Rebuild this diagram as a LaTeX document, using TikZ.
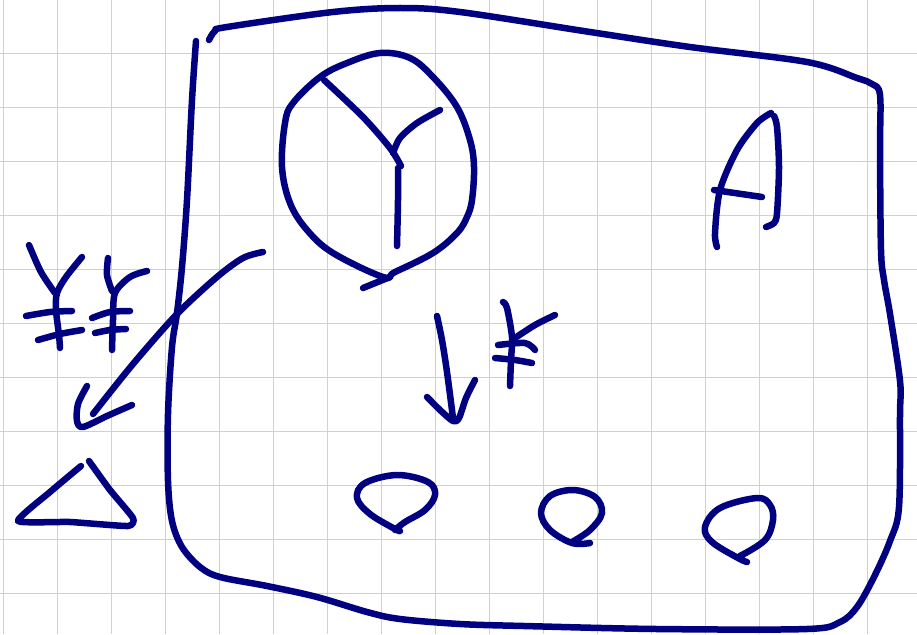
\documentclass[tikz,border=0pt]{standalone}
\begin{document}
\begin{tikzpicture}[x=1pt,y=-1pt,
  ink/.style={draw={rgb,255:red,0;green,0;blue,128},line width=6.5pt,line cap=round,line join=round},
  gridline/.style={draw={rgb,255:red,206;green,206;blue,220},line width=1.4pt}]
\useasboundingbox (0,0) rectangle (917,634);
\fill[white] (0,0) rectangle (917,634);
% grid
\foreach \k in {0,...,16} {\draw[gridline] (3.3+54*\k,0) -- (3.3+54*\k,634);}
\foreach \k in {1,...,11} {\draw[gridline] (0,-0.7+54*\k) -- (917,-0.7+54*\k);}
% outline box
\draw[ink] plot[smooth,tension=0.55] coordinates {
 (196,41) (192,100) (187,200) (182,267) (177,313) (172,347) (168,414) (168,481) (172,521)
 (182,547) (200,567) (220,577) (267,586) (317,597) (367,612) (400,619) (460,624)
 (524,626) (657,629) (807,629) (840,622) (857,607) (874,577) (890,541) (899,507)
 (900,414) (900,381) (890,314) (884,280) (881,250) (880,150) (880,95) (872,84)
 (857,78) (807,62) (690,47) (590,32) (460,12) (400,8) (333,12) (227,27) (215,31) (209,40)};
% big circle
\draw[ink] plot[smooth cycle,tension=0.6] coordinates {
 (383,277) (333,253) (307,230) (290,203) (282,167) (285,123) (293,103) (320,77)
 (347,63) (380,53) (410,58) (433,77) (457,107) (470,140) (474,167) (472,200)
 (467,217) (457,233) (433,253) (395,272)};
\draw[ink] (363,288) -- (390,277);
% Y inside circle
\draw[ink] plot[smooth,tension=0.5] coordinates {(324,80) (363,117) (390,148) (401,166)};
\draw[ink] plot[smooth,tension=0.5] coordinates {(393,153) (400,138) (417,123) (440,110)};
\draw[ink] plot[smooth,tension=0.5] coordinates {(398,168) (398,200) (397,246)};
% A
\draw[ink] plot[smooth,tension=0.5] coordinates {(717,247) (715,233) (720,190) (737,150) (757,123) (771,113)};
\draw[ink] plot[smooth,tension=0.5] coordinates {(774,116) (777,127) (779,167) (777,213) (774,223) (766,227)};
\draw[ink] (714,190) -- (762,197);
% left yen signs
\draw[ink] plot[smooth,tension=0.5] coordinates {(29,245) (41,272) (55,293)};
\draw[ink] plot[smooth,tension=0.5] coordinates {(82,257) (66,277) (57,293) (56,310) (59,335) (60,348)};
\draw[ink] plot[smooth,tension=0.5] coordinates {(26,316) (50,312) (72,311)};
\draw[ink] plot[smooth,tension=0.5] coordinates {(38,340) (60,334) (82,330)};
\draw[ink] plot[smooth,tension=0.5] coordinates {(108,258) (107,275) (112,291)};
\draw[ink] plot[smooth,tension=0.5] coordinates {(147,271) (130,277) (115,293) (113,320) (112,350)};
\draw[ink] plot[smooth,tension=0.5] coordinates {(92,318) (110,312) (130,311)};
\draw[ink] plot[smooth,tension=0.5] coordinates {(95,333) (110,330) (126,329)};
% curved arrow to triangle
\draw[ink] plot[smooth,tension=0.5] coordinates {(263,252) (243,258) (217,277) (177,314) (133,364) (93,414)};
\draw[ink] plot[smooth,tension=0.5] coordinates {(87,386) (78,404) (77,421) (83,427) (107,416) (132,405)};
% triangle
\draw[ink] plot[smooth,tension=0.3] coordinates {(81,466) (50,492) (18,521) (70,522) (128,526) (133,518) (110,490) (89,461)};
% down arrow
\draw[ink] plot[smooth,tension=0.5] coordinates {(437,316) (442,340) (447,372) (453,418)};
\draw[ink] plot[smooth,tension=0.5] coordinates {(427,397) (440,410) (453,421) (459,418) (466,398) (475,380)};
% middle yen
\draw[ink] plot[smooth,tension=0.5] coordinates {(503,302) (507,308) (512,337) (511,360) (510,386)};
\draw[ink] plot[smooth,tension=0.5] coordinates {(555,315) (535,325) (515,338)};
\draw[ink] plot[smooth,tension=0.5] coordinates {(498,345) (525,343) (535,350)};
\draw[ink] plot[smooth,tension=0.5] coordinates {(495,358) (515,360) (532,363)};
% small loops
\draw[ink] plot[smooth,tension=0.6] coordinates {(400,531) (395,529) (370,514) (357,498) (365,483) (397,475) (428,482) (435,495) (425,510) (405,522) (395,530)};
\draw[ink] plot[smooth,tension=0.6] coordinates {(590,543) (572,543) (550,530) (541,513) (550,496) (573,490) (595,497) (602,513) (590,530) (572,542)};
\draw[ink] plot[smooth,tension=0.6] coordinates {(747,562) (738,558) (712,542) (705,527) (720,508) (757,498) (770,505) (773,520) (765,540) (740,556)};
\end{tikzpicture}
\end{document}
